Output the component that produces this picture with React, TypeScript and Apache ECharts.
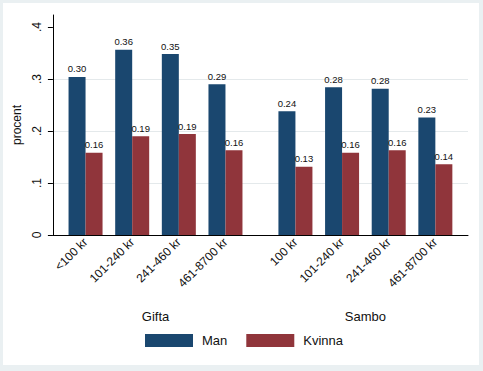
import React, { useEffect, useRef } from "react";
import * as echarts from "echarts";

const categoryLabels = ["<100 kr", "101-240 kr", "241-460 kr", "461-8700 kr", "100 kr", "101-240 kr", "241-460 kr", "461-8700 kr"];
const categoryPositions = [0, 1, 2, 3, 4.5, 5.5, 6.5, 7.5];
const groupLabels = ["Gifta", "Sambo"];
const groupPositions = [1.5, 6];
const manValues = [0.304, 0.356, 0.348, 0.29, 0.238, 0.284, 0.281, 0.226];
const kvinnaValues = [0.158, 0.19, 0.194, 0.163, 0.131, 0.158, 0.163, 0.136];
const yTicks = [0, 0.1, 0.2, 0.3, 0.4];

const FONT = "Liberation Sans";

export default function App() {
  const ref = useRef<HTMLDivElement>(null);
  useEffect(() => {
    if (!ref.current) return;
    const chart = echarts.init(ref.current, undefined, { renderer: "svg" });
    const labelFor = (v: number) => {
      const i = categoryPositions.findIndex((p) => Math.abs(p - v) < 1e-6);
      return i >= 0 ? categoryLabels[i] : "";
    };
    const groupFor = (v: number) => {
      const i = groupPositions.findIndex((p) => Math.abs(p - v) < 1e-6);
      return i >= 0 ? groupLabels[i] : "";
    };
    const barLabel = {
      show: true,
      position: "top",
      distance: 3,
      fontSize: 9.5,
      fontFamily: FONT,
      color: "#111",
      formatter: (p: any) => Number(p.value[1]).toFixed(2),
    };
    chart.setOption({
      animation: false,
      backgroundColor: "#ffffff",
      textStyle: { fontFamily: FONT },
      grid: { left: 48, right: 11, top: 12, bottom: 130 },
      legend: {
        left: 137,
        top: 326,
        itemWidth: 48,
        itemHeight: 13,
        itemGap: 19,
        icon: "rect",
        textStyle: { fontSize: 13, fontFamily: FONT, color: "#111", padding: [3, 0, 0, 4] },
        data: ["Man", "Kvinna"],
      },
      xAxis: [
        {
          type: "value",
          min: -0.7,
          max: 8.2,
          axisLine: { show: true, onZero: false, lineStyle: { color: "#000", width: 1 } },
          axisTick: { show: false },
          splitLine: { show: false },
          axisLabel: {
            customValues: categoryPositions,
            formatter: labelFor,
            rotate: 45,
            margin: 5,
            fontSize: 12,
            fontFamily: FONT,
            color: "#111",
          },
        },
        {
          type: "value",
          min: -0.7,
          max: 8.2,
          position: "bottom",
          offset: 75,
          axisLine: { show: false, onZero: false },
          axisTick: { show: false },
          splitLine: { show: false },
          axisLabel: {
            customValues: groupPositions,
            formatter: groupFor,
            margin: 0,
            fontSize: 13,
            fontFamily: FONT,
            color: "#111",
          },
        },
      ],
      yAxis: {
        type: "value",
        min: 0,
        max: 0.423,
        interval: 0.1,
        name: "procent",
        nameLocation: "middle",
        nameGap: 27,
        nameTextStyle: { fontSize: 12, fontFamily: FONT, color: "#111" },
        axisLine: { show: true, onZero: false, lineStyle: { color: "#000", width: 1 } },
        axisTick: { show: true, length: 5, customValues: yTicks, lineStyle: { color: "#000" } },
        axisLabel: {
          customValues: yTicks,
          rotate: 90,
          margin: 10,
          fontSize: 12,
          fontFamily: FONT,
          color: "#111",
          formatter: (v: number) => (v === 0 ? "0" : v.toFixed(1).replace(/^0/, "")),
        },
        splitLine: { show: true, showMinLine: false, showMaxLine: false, lineStyle: { color: "#e4e9eb", width: 1 } },
      },
      series: [
        {
          name: "Man",
          type: "bar",
          xAxisIndex: 0,
          barWidth: 17,
          barGap: "0%",
          itemStyle: { color: "#1a476f" },
          label: barLabel,
          data: categoryPositions.map((x, i) => [x, manValues[i]]),
        },
        {
          name: "Kvinna",
          type: "bar",
          xAxisIndex: 0,
          barWidth: 17,
          barGap: "0%",
          itemStyle: { color: "#90353b" },
          label: barLabel,
          data: categoryPositions.map((x, i) => [x, kvinnaValues[i]]),
        },
      ],
    });
    return () => chart.dispose();
  }, []);
  return (
    <div style={{ position: "fixed", left: 0, top: 0, width: 483, height: 371, background: "#eaf0f2" }}>
      <div ref={ref} style={{ position: "absolute", left: 3, top: 3, width: 476, height: 362 }} />
    </div>
  );
}
